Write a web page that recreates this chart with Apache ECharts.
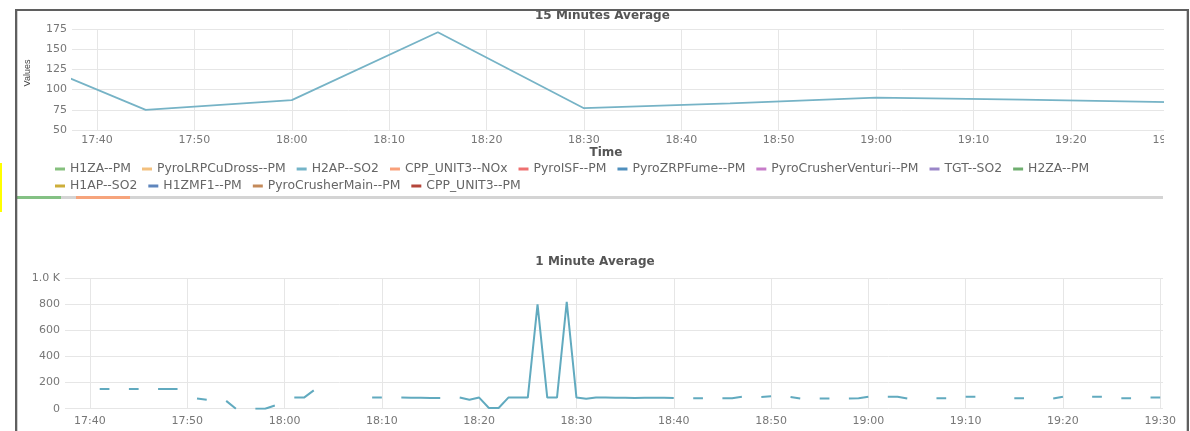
<!DOCTYPE html>
<html>
<head>
<meta charset="utf-8">
<script src="https://cdn.jsdelivr.net/npm/echarts@6/dist/echarts.min.js"></script>
<style>
html,body{margin:0;padding:0;background:#fff;}
#c{width:1190px;height:431px;}
</style>
</head>
<body>
<div id="c"></div>
<script>
// ---------- data ----------
const axisStart = '17:37:26';
const topAxisEnd = '19:31:00';
const bottomAxisEnd = '19:30:17';

const topTitle = '15 Minutes Average';
const bottomTitle = '1 Minute Average';

const topTimes = ['17:30','17:45','18:00','18:15','18:30','18:45','19:00','19:15','19:30'];
const topValues = [150, 75, 87, 171, 77, 83, 90, 87.6, 84.6];

// one value per minute starting at bottomStart (null = no reading)
const bottomStart = '17:38';
const bottomValues = [
  null,null,null,150,150,null,150,150,null,150,150,150,          // 17:38-17:49
  null,78,68,null,60,0,null,0,0,25,                              // 17:50-17:59
  null,85,85,140,null,null,null,null,null,85,                    // 18:00-18:09
  85,null,85,84,83,82,82,null,85,68,                             // 18:10-18:19
  85,5,5,85,85,85,798,85,85,818,                                 // 18:20-18:29
  85,76,85,85,83,84,82,83,84,84,                                 // 18:30-18:39
  82,null,80,80,null,80,80,92,null,90,                           // 18:40-18:49
  95,null,90,78,null,78,78,null,78,80,                           // 18:50-18:59
  92,null,92,92,78,null,null,80,80,null,                         // 19:00-19:09
  92,92,null,null,null,80,80,null,null,78,                       // 19:10-19:19
  92,null,null,92,92,null,80,80,null,85,                         // 19:20-19:29
  85                                                             // 19:30
];

const legendRow1 = ['H1ZA--PM','PyroLRPCuDross--PM','H2AP--SO2','CPP_UNIT3--NOx','PyroISF--PM','PyroZRPFume--PM','PyroCrusherVenturi--PM','TGT--SO2','H2ZA--PM'];
const legendRow2 = ['H1AP--SO2','H1ZMF1--PM','PyroCrusherMain--PM','CPP_UNIT3--PM'];
const seriesColors = {
  'H1ZA--PM':'#86c07e','PyroLRPCuDross--PM':'#f3c07e','H2AP--SO2':'#74b4c8','CPP_UNIT3--NOx':'#f9a07a',
  'PyroISF--PM':'#ee7070','PyroZRPFume--PM':'#4f8fbd','PyroCrusherVenturi--PM':'#c77cc9','TGT--SO2':'#9a86c8',
  'H2ZA--PM':'#6fae6f','H1AP--SO2':'#cdae3a','H1ZMF1--PM':'#5f86bd','PyroCrusherMain--PM':'#c48a5a','CPP_UNIT3--PM':'#b4453a'
};
const topY = {min:50, max:175, interval:25};
const bottomY = {min:0, max:1000, interval:200};

// ---------- helpers ----------
function t(s){ const p = s.split(':').map(Number); return new Date(2024,0,1,p[0],p[1],p[2]||0).getTime(); }
const topData = topTimes.map((s,i)=>[t(s), topValues[i]]);
const b0 = t(bottomStart);
const bottomData = bottomValues.map((v,i)=>[b0 + i*60000, v]);

const FONT = 'DejaVu Sans';
const labelStyle = {color:'#777', fontSize:11, fontFamily:FONT};
const TEN_MIN = 600001; // just above 10 minutes so the time scale picks a 10-minute step
function xAxisCfg(gridIndex, maxStr, margin){
  return {
    type:'time', gridIndex, min:t(axisStart), max:t(maxStr),
    minInterval:TEN_MIN, maxInterval:TEN_MIN,
    axisLine:{show:false}, axisTick:{show:false},
    axisLabel:Object.assign({formatter:'{HH}:{mm}', margin, showMinLabel:false, showMaxLabel:false, hideOverlap:false}, labelStyle),
    splitLine:{show:true, showMinLine:false, showMaxLine:false, lineStyle:{color:'#e6e6e6', width:1}}
  };
}

const series = [];
legendRow1.concat(legendRow2).forEach(n=>{
  if(n === 'H2AP--SO2') return;
  series.push({name:n, type:'line', xAxisIndex:0, yAxisIndex:0, data:[], color:seriesColors[n], symbol:'none'});
});
series.splice(2,0,{name:'H2AP--SO2', type:'line', xAxisIndex:0, yAxisIndex:0, data:topData,
  color:seriesColors['H2AP--SO2'], symbol:'none', lineStyle:{width:1.8, color:'#76b3c6'}});
series.push({name:'H2AP--SO2', type:'line', xAxisIndex:1, yAxisIndex:1, data:bottomData,
  color:seriesColors['H2AP--SO2'], symbol:'none', connectNulls:false, lineStyle:{width:2, color:'#61aabf'}});

const legendCommon = {icon:'rect', itemWidth:10, itemHeight:3, itemGap:11, padding:0,
  textStyle:{color:'#666', fontSize:12.4, fontFamily:FONT}};

const option = {
  animation:false,
  backgroundColor:'#fff',
  title:[
    {text:topTitle, left:535, top:10, padding:0, textStyle:{color:'#555', fontSize:12, fontWeight:'bold', fontFamily:FONT}},
    {text:bottomTitle, left:'center', top:256, padding:0, textStyle:{color:'#555', fontSize:12, fontWeight:'bold', fontFamily:FONT}}
  ],
  legend:[
    Object.assign({data:legendRow1, left:55, top:163}, legendCommon),
    Object.assign({data:legendRow2, left:55, top:180}, legendCommon)
  ],
  grid:[
    {left:72, top:29, width:1106, height:101},
    {left:65, top:278, width:1098, height:130.7}
  ],
  xAxis:[
    Object.assign(xAxisCfg(0, topAxisEnd, 5), {name:'Time', nameLocation:'middle', nameGap:16,
      nameTextStyle:{color:'#555', fontSize:12, fontWeight:'bold', fontFamily:FONT, padding:[0,38,0,0]}}),
    xAxisCfg(1, bottomAxisEnd, 7)
  ],
  yAxis:[
    {type:'value', gridIndex:0, min:topY.min, max:topY.max, interval:topY.interval,
     name:'Values', nameLocation:'middle', nameGap:40, nameRotate:90,
     nameTextStyle:{color:'#444', fontSize:9, fontFamily:'Liberation Sans', padding:[0,0,0,13]},
     axisLine:{show:false}, axisTick:{show:false},
     axisLabel:Object.assign({margin:5}, labelStyle),
     splitLine:{lineStyle:{color:'#e6e6e6'}}},
    {type:'value', gridIndex:1, min:bottomY.min, max:bottomY.max, interval:bottomY.interval,
     axisLine:{show:false}, axisTick:{show:false},
     axisLabel:Object.assign({margin:5, formatter:v=> v>=1000 ? (v/1000).toFixed(1)+' K' : String(v)}, labelStyle),
     splitLine:{lineStyle:{color:'#e6e6e6'}}}
  ],
  graphic:[
    {type:'rect', z:100, shape:{x:1164, y:18, width:21, height:135}, style:{fill:'#fff'}},
    {type:'rect', z:101, shape:{x:17, y:196, width:1146, height:3}, style:{fill:'#d4d4d4'}},
    {type:'rect', z:102, shape:{x:17, y:196, width:44, height:3}, style:{fill:'#84c184'}},
    {type:'rect', z:102, shape:{x:76, y:196, width:54, height:3}, style:{fill:'#f6a47c'}},
    {type:'rect', z:103, shape:{x:15, y:9, width:1174, height:2}, style:{fill:'#5f5f5f'}},
    {type:'rect', z:103, shape:{x:15, y:9, width:2.3, height:422}, style:{fill:'#5f5f5f'}},
    {type:'rect', z:103, shape:{x:1186.7, y:9, width:2.3, height:422}, style:{fill:'#5f5f5f'}},
    {type:'rect', z:103, shape:{x:0, y:163, width:2, height:49}, style:{fill:'#ffff00'}}
  ],
  series
};
const chart = echarts.init(document.getElementById('c'), null, {renderer:'canvas'});
chart.setOption(option);
</script>
</body>
</html>
